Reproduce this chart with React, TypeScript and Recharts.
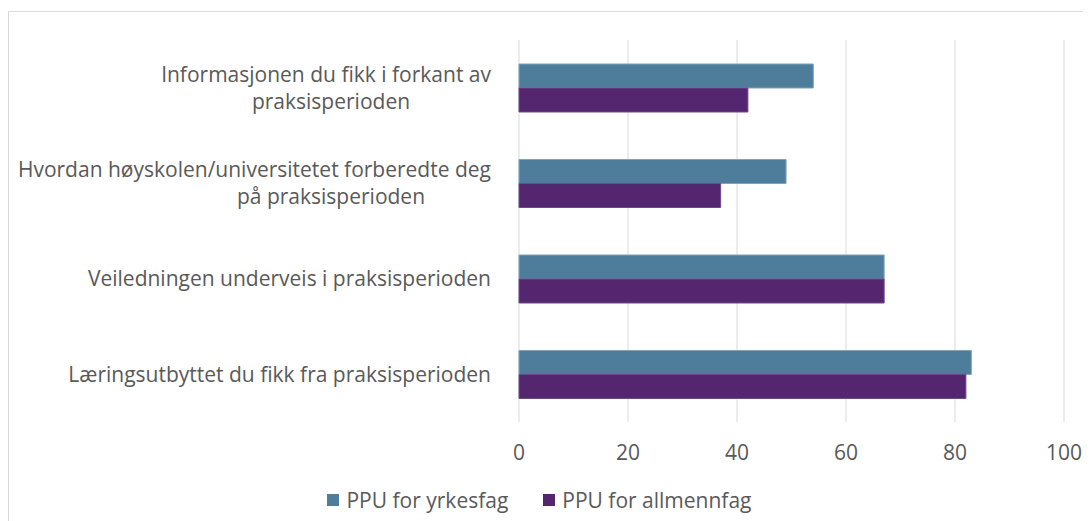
import React from "react";
import {
  BarChart,
  Bar,
  XAxis,
  YAxis,
  CartesianGrid,
  Legend,
} from "recharts";

// kategorier, ovenfra og ned (linjeskift som i originalen)
const categories = [
  "Informasjonen du fikk i forkant av\npraksisperioden",
  "Hvordan høyskolen/universitetet forberedte deg\npå praksisperioden",
  "Veiledningen underveis i praksisperioden",
  "Læringsutbyttet du fikk fra praksisperioden",
];
const yrkesfag = [54, 49, 67, 83];
const allmennfag = [42, 37, 67, 82];
const xTicks = [0, 20, 40, 60, 80, 100];

const seriesNames = { yrkesfag: "PPU for yrkesfag", allmennfag: "PPU for allmennfag" };
const colors = { yrkesfag: "#4E7D9B", allmennfag: "#54266F" };

const data = categories.map((name, i) => ({
  name,
  yrkesfag: yrkesfag[i],
  allmennfag: allmennfag[i],
}));

const FONT = "'Open Sans', Calibri, sans-serif";
const SIZE = 21;
const TEXT = "#595959";

let ctx: CanvasRenderingContext2D | null = null;
function textWidth(s: string, size: number) {
  if (!ctx) ctx = document.createElement("canvas").getContext("2d");
  if (!ctx) return s.length * size * 0.5;
  ctx.font = `${size}px ${FONT}`;
  return ctx.measureText(s).width;
}

// Excel-aktig: korte linjer sentreres i etikettboksen, lange høyrejusteres
function CategoryTick(props: any) {
  const { x, y, payload } = props;
  const lines: string[] = String(payload.value).split("\n");
  const lh = 27;
  const y0 = y - ((lines.length - 1) * lh) / 2;
  return (
    <text fontFamily={FONT} fontSize={SIZE} fill={TEXT} textAnchor="middle">
      {lines.map((l, i) => {
        const w = textWidth(l, SIZE);
        const cx = Math.min(x - w / 2, x - 160);
        return (
          <tspan key={i} x={cx} y={y0 + i * lh} dy="0.35em">
            {l}
          </tspan>
        );
      })}
    </text>
  );
}

function LegendContent() {
  const items = [
    { key: "yrkesfag", label: seriesNames.yrkesfag },
    { key: "allmennfag", label: seriesNames.allmennfag },
  ] as const;
  return (
    <div
      style={{
        display: "flex",
        justifyContent: "center",
        gap: 35,
        paddingTop: 14,
        paddingLeft: 6,
        fontFamily: FONT,
        fontSize: SIZE,
        color: TEXT,
      }}
    >
      {items.map((it) => (
        <div key={it.key} style={{ display: "flex", alignItems: "center" }}>
          <span
            style={{
              display: "inline-block",
              width: 12,
              height: 12,
              background: colors[it.key],
              marginRight: 7,
            }}
          />
          {it.label}
        </div>
      ))}
    </div>
  );
}

export default function App() {
  return (
    <div
      style={{
        marginTop: 3,
        width: 1100,
        height: 520,
        border: "1px solid #d9d9d9",
        background: "#fff",
        boxSizing: "border-box",
        overflow: "hidden",
      }}
    >
      <BarChart
        width={1080}
        height={509}
        data={data}
        layout="vertical"
        barGap={0}
        barSize={24}
        margin={{ top: 28, right: 25, left: 0, bottom: 0 }}
      >
        <CartesianGrid horizontal={false} stroke="#d9d9d9" />
        <XAxis
          type="number"
          domain={[0, 100]}
          ticks={xTicks}
          axisLine={false}
          tickLine={false}
          tickSize={0}
          tickMargin={23}
          height={50}
          tick={{ fontSize: SIZE, fill: TEXT, fontFamily: FONT }}
        />
        <YAxis
          type="category"
          dataKey="name"
          width={510}
          axisLine={false}
          tickLine={false}
          tickSize={0}
          tickMargin={28}
          interval={0}
          tick={<CategoryTick />}
        />
        <Legend verticalAlign="bottom" height={49} content={<LegendContent />} />
        <Bar
          dataKey="yrkesfag"
          name={seriesNames.yrkesfag}
          fill={colors.yrkesfag}
          stroke="#7FA3BC"
          strokeWidth={1}
          isAnimationActive={false}
        />
        <Bar
          dataKey="allmennfag"
          name={seriesNames.allmennfag}
          fill={colors.allmennfag}
          stroke="#6E4A88"
          strokeWidth={1}
          isAnimationActive={false}
        />
      </BarChart>
    </div>
  );
}
